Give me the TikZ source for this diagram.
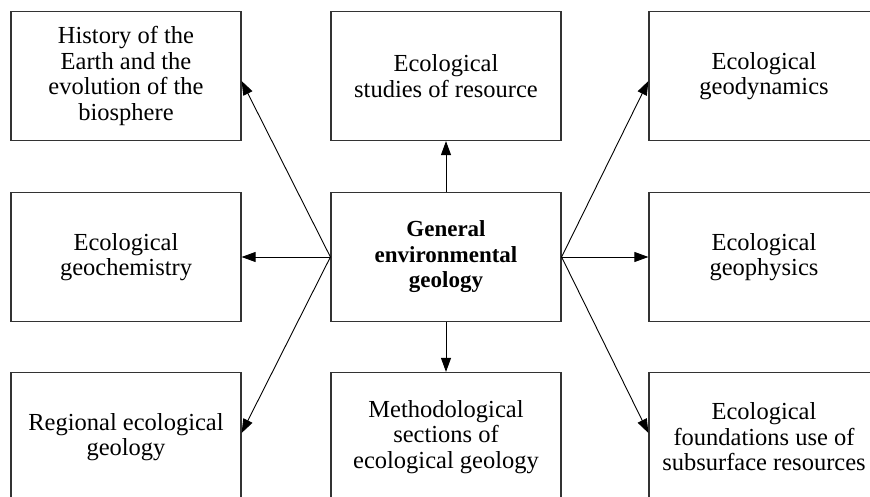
\documentclass[tikz,border=0pt]{standalone}
\usepackage{fontspec}
\setmainfont{Liberation Serif}
\usetikzlibrary{arrows.meta}
\begin{document}
\begin{tikzpicture}[x=1pt,y=-1pt,
  box/.style={draw=black!80,line width=1.2pt,fill=white,minimum width=230pt,minimum height=129pt,
    align=center,inner sep=0pt,font=\fontsize{24.5}{25.5}\selectfont},
  arr/.style={draw=black,line width=0.9pt,-{Triangle[length=14pt,width=10pt]}}]
\useasboundingbox (0,0) rectangle (870,497);
\clip (0,0) rectangle (870,497);
\node[box] (tl) at (126,76) {History of the\\Earth and the\\evolution of the\\biosphere};
\node[box] (tm) at (446,76) {Ecological\\studies of resource};
\node[box] (tr) at (764,76) {Ecological\\geodynamics};
\node[box] (ml) at (126,257) {Ecological\\geochemistry};
\node[box,font=\fontsize{23}{25.5}\selectfont\bfseries] (c) at (446,257) {General\\environmental\\geology};
\node[box] (mr) at (764,257) {Ecological\\geophysics};
\node[box] (bl) at (126,437) {Regional ecological\\geology};
\node[box] (bm) at (446,437) {Methodological\\sections of\\ecological geology};
\node[box] (br) at (764,437) {Ecological\\foundations use of\\subsurface resources};
\draw[arr] (c.north) -- (tm.south);
\draw[arr] (c.south) -- (bm.north);
\draw[arr] (c.west) -- (ml.east);
\draw[arr] (c.east) -- (mr.west);
\draw[arr] (c.west) -- ([yshift=-5pt]tl.east);
\draw[arr] (c.west) -- ([yshift=4pt]bl.east);
\draw[arr] (c.east) -- ([yshift=-5pt]tr.west);
\draw[arr] (c.east) -- ([yshift=4pt]br.west);
\end{tikzpicture}
\end{document}
